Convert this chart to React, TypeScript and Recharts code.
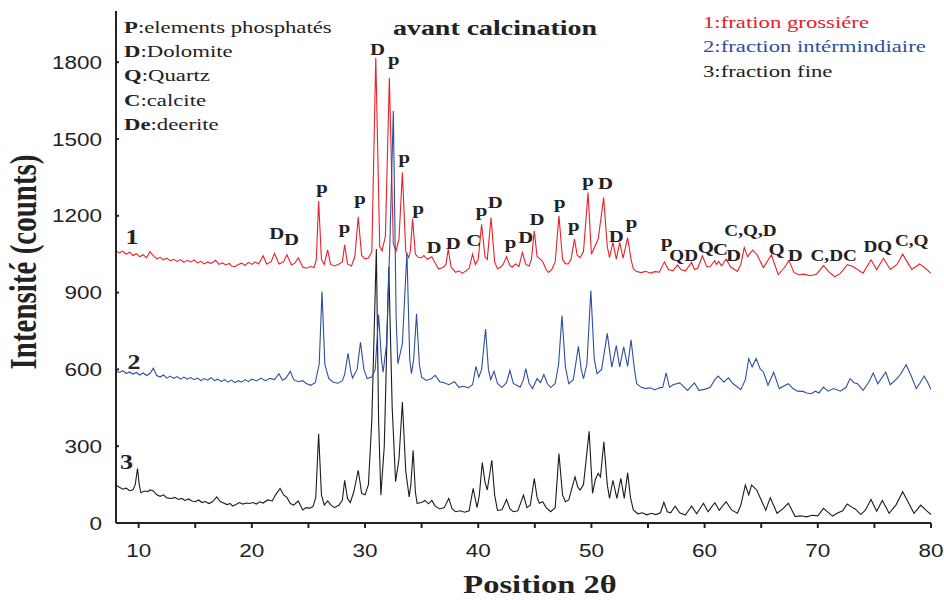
import { ComposedChart, Line, XAxis, YAxis, ReferenceDot } from "recharts";

// 2θ (deg) / intensity (counts) pairs, traces already offset
const coarseTrace: [number, number][] = [
  [8.0, 1063], [8.3, 1055], [8.6, 1062], [8.9, 1050], [9.2, 1058], [9.5, 1045], [9.8, 1052], [10.1, 1040],
  [10.4, 1048], [10.7, 1036], [11.0, 1060], [11.3, 1044], [11.6, 1032], [11.9, 1038], [12.2, 1028], [12.5, 1035],
  [12.8, 1024], [13.1, 1030], [13.4, 1022], [13.7, 1029], [14.0, 1018], [14.3, 1026], [14.6, 1020], [14.9, 1028],
  [15.2, 1016], [15.5, 1022], [15.8, 1012], [16.1, 1020], [16.4, 1014], [16.8, 1026], [17.1, 1010], [17.4, 1016],
  [17.7, 1008], [18.0, 1014], [18.2, 1004], [18.5, 1001], [18.8, 1010], [19.1, 1015], [19.4, 1006], [19.7, 1018],
  [20.0, 1010], [20.3, 1020], [20.6, 1012], [21.0, 1044], [21.3, 1012], [21.7, 1020], [22.0, 1053], [22.4, 1012],
  [22.8, 1020], [23.1, 1048], [23.5, 1008], [23.8, 1015], [24.1, 1036], [24.5, 1000], [24.8, 995], [25.2, 1002],
  [25.5, 998], [25.7, 1030], [25.9, 1258], [26.15, 1030], [26.4, 1010], [26.7, 1067], [26.95, 1010], [27.3, 1004],
  [27.7, 1012], [28.0, 1020], [28.2, 1087], [28.45, 1012], [28.8, 1004], [29.1, 1040], [29.4, 1196], [29.7, 1045],
  [30.0, 1032], [30.3, 1035], [30.6, 1060], [30.95, 1817], [31.3, 1080], [31.5, 1063], [31.8, 1120], [32.15, 1739],
  [32.5, 1090], [32.75, 1063], [33.0, 1110], [33.3, 1369], [33.6, 1060], [33.85, 1037], [34.0, 1060], [34.2, 1188],
  [34.45, 1050], [34.7, 1038], [35.0, 1036], [35.2, 1045], [35.5, 1030], [35.9, 1040], [36.2, 1015], [36.5, 993],
  [36.9, 998], [37.15, 1010], [37.35, 1070], [37.6, 1000], [38.0, 979], [38.3, 985], [38.6, 975], [38.9, 985],
  [39.2, 995], [39.5, 1050], [39.75, 1010], [40.0, 1030], [40.3, 1167], [40.6, 1040], [40.8, 1030], [41.13, 1193],
  [41.45, 1020], [41.7, 993], [42.0, 1000], [42.2, 1010], [42.5, 1040], [42.8, 1005], [43.0, 1000], [43.3, 1012],
  [43.6, 1002], [43.9, 1057], [44.2, 1010], [44.5, 1004], [44.7, 1030], [44.95, 1141], [45.2, 1040], [45.5, 1031],
  [45.7, 1020], [46.0, 990], [46.2, 979], [46.5, 990], [46.8, 1020], [47.13, 1200], [47.45, 1030], [47.7, 1013],
  [47.95, 1012], [48.2, 1030], [48.5, 1109], [48.75, 1045], [49.0, 1037], [49.3, 1060], [49.7, 1291], [50.0, 1050],
  [50.3, 1080], [50.6, 1109], [51.08, 1271], [51.4, 1080], [51.6, 1037], [51.9, 1096], [52.2, 1031], [52.5, 1096],
  [52.8, 1035], [53.2, 1115], [53.5, 1030], [53.7, 993], [54.0, 982], [54.4, 978], [54.8, 983], [55.2, 976],
  [55.6, 982], [56.0, 980], [56.45, 1020], [56.8, 990], [57.2, 985], [57.6, 1008], [57.9, 990], [58.3, 984],
  [58.85, 1018], [59.1, 990], [59.4, 996], [59.8, 1044], [60.2, 1000], [60.5, 1002], [60.9, 1025], [61.05, 1010],
  [61.25, 1022], [61.5, 1005], [61.9, 1031], [62.3, 1000], [62.9, 983], [63.2, 1010], [63.5, 1076], [63.8, 1040],
  [64.0, 1052], [64.25, 1066], [64.6, 1050], [65.2, 998], [65.9, 1048], [66.5, 970], [67.0, 995], [67.45, 1025],
  [67.9, 979], [68.3, 970], [68.8, 972], [69.3, 966], [69.9, 972], [70.5, 1005], [71.0, 980], [71.5, 962],
  [72.0, 975], [72.6, 1009], [73.1, 1002], [73.5, 990], [74.0, 976], [74.7, 1028], [75.2, 990], [75.8, 1034],
  [76.4, 990], [77.0, 1010], [77.5, 1050], [77.9, 1020], [78.3, 990], [79.0, 1012], [79.5, 995], [80.0, 975],
];

const middleTrace: [number, number][] = [
  [8.0, 593], [8.3, 588], [8.6, 595], [8.9, 584], [9.2, 590], [9.5, 582], [9.8, 588], [10.1, 578],
  [10.4, 586], [10.7, 576], [11.0, 584], [11.3, 605], [11.6, 576], [11.9, 570], [12.2, 578], [12.5, 566],
  [12.8, 574], [13.1, 565], [13.4, 572], [13.7, 562], [14.0, 570], [14.3, 562], [14.6, 568], [14.9, 560],
  [15.2, 566], [15.5, 556], [15.8, 564], [16.1, 558], [16.4, 568], [16.7, 556], [17.0, 562], [17.3, 552],
  [17.6, 560], [17.9, 550], [18.2, 558], [18.5, 548], [18.8, 556], [19.1, 550], [19.4, 560], [19.7, 552],
  [20.0, 562], [20.4, 555], [20.8, 566], [21.2, 556], [21.6, 565], [22.0, 560], [22.4, 583], [22.7, 558],
  [23.0, 565], [23.4, 592], [23.7, 560], [24.1, 552], [24.5, 556], [24.8, 545], [25.2, 538], [25.6, 548],
  [25.95, 620], [26.2, 904], [26.45, 620], [26.8, 564], [27.2, 550], [27.6, 546], [28.0, 556], [28.2, 580],
  [28.5, 663], [28.75, 590], [28.9, 566], [29.3, 600], [29.6, 706], [29.9, 600], [30.2, 564], [30.6, 570],
  [30.9, 600], [31.2, 813], [31.45, 640], [31.6, 589], [31.9, 700], [32.2, 1100], [32.5, 1609], [32.75, 800],
  [32.9, 622], [33.3, 700], [33.7, 1057], [33.95, 640], [34.1, 583], [34.3, 640], [34.55, 817], [34.8, 620],
  [35.0, 570], [35.4, 557], [35.8, 562], [36.2, 577], [36.6, 552], [37.0, 548], [37.4, 540], [37.9, 552],
  [38.3, 530], [38.7, 534], [39.1, 528], [39.5, 540], [39.8, 612], [40.05, 570], [40.3, 600], [40.65, 758],
  [40.9, 600], [41.1, 560], [41.4, 593], [41.7, 545], [42.1, 529], [42.5, 548], [42.8, 596], [43.1, 545],
  [43.7, 530], [44.0, 560], [44.2, 603], [44.5, 545], [44.8, 525], [45.2, 564], [45.5, 548], [45.8, 580],
  [46.1, 545], [46.4, 529], [46.8, 545], [47.1, 620], [47.4, 810], [47.7, 610], [48.0, 544], [48.4, 560],
  [48.85, 690], [49.1, 600], [49.3, 564], [49.6, 620], [49.95, 908], [50.25, 640], [50.5, 583], [50.9, 600],
  [51.4, 741], [51.8, 609], [52.2, 693], [52.5, 609], [52.85, 688], [53.2, 612], [53.5, 716], [53.8, 600],
  [54.0, 544], [54.4, 530], [54.8, 525], [55.2, 528], [55.6, 520], [56.0, 528], [56.3, 530], [56.6, 586],
  [56.9, 530], [57.2, 540], [57.8, 547], [58.5, 518], [59.1, 547], [59.5, 518], [60.0, 522], [60.5, 530],
  [60.9, 560], [61.2, 574], [61.5, 560], [61.7, 550], [62.1, 567], [62.5, 545], [63.2, 521], [63.6, 560],
  [63.9, 642], [64.2, 610], [64.55, 642], [64.9, 603], [65.2, 590], [65.6, 538], [66.1, 589], [66.6, 525],
  [67.0, 535], [67.4, 544], [67.8, 525], [68.2, 515], [68.7, 514], [69.0, 508], [69.4, 505], [69.8, 515],
  [70.1, 508], [70.5, 531], [70.9, 515], [71.4, 525], [72.0, 515], [72.5, 530], [72.85, 564], [73.2, 548],
  [73.5, 544], [74.0, 518], [74.5, 550], [74.9, 586], [75.3, 544], [75.7, 570], [76.0, 589], [76.4, 540],
  [76.9, 560], [77.3, 580], [77.8, 618], [78.2, 580], [78.7, 525], [79.0, 545], [79.4, 574], [79.7, 550],
  [80.0, 521],
];

const fineTrace: [number, number][] = [
  [8.0, 148], [8.3, 140], [8.6, 132], [8.9, 136], [9.2, 126], [9.5, 130], [9.7, 150], [9.9, 213],
  [10.05, 150], [10.2, 118], [10.5, 125], [10.8, 122], [11.0, 129], [11.3, 125], [11.6, 110], [11.9, 104],
  [12.2, 110], [12.5, 98], [12.9, 96], [13.2, 100], [13.5, 92], [13.8, 96], [14.1, 88], [14.4, 94],
  [14.7, 86], [15.0, 83], [15.3, 90], [15.6, 80], [15.9, 84], [16.2, 76], [16.5, 82], [16.9, 102],
  [17.2, 84], [17.5, 78], [17.8, 72], [18.1, 76], [18.3, 66], [18.6, 72], [18.9, 80], [19.2, 74],
  [19.5, 78], [19.8, 76], [20.1, 80], [20.4, 74], [20.7, 83], [21.0, 78], [21.4, 90], [21.8, 86],
  [22.1, 110], [22.5, 135], [22.8, 110], [23.1, 100], [23.4, 76], [23.7, 70], [24.1, 86], [24.5, 51],
  [24.8, 60], [25.1, 58], [25.4, 64], [25.65, 100], [25.9, 349], [26.15, 110], [26.4, 70], [26.7, 86],
  [27.0, 70], [27.3, 60], [27.7, 70], [28.0, 90], [28.2, 167], [28.45, 96], [28.7, 80], [29.0, 120],
  [29.4, 206], [29.7, 116], [30.0, 110], [30.3, 150], [30.6, 400], [31.0, 1070], [31.2, 400], [31.4, 109],
  [31.7, 300], [32.1, 1000], [32.4, 450], [32.7, 161], [33.0, 250], [33.3, 473], [33.6, 200], [33.9, 102],
  [34.05, 150], [34.25, 284], [34.45, 120], [34.6, 77], [35.0, 80], [35.3, 88], [35.6, 75], [35.9, 88],
  [36.2, 66], [36.6, 55], [37.0, 60], [37.4, 96], [37.7, 55], [38.0, 44], [38.4, 48], [38.8, 42],
  [39.2, 48], [39.55, 135], [39.9, 60], [40.1, 110], [40.36, 236], [40.6, 160], [40.8, 129], [41.2, 245],
  [41.45, 110], [41.7, 49], [42.1, 52], [42.5, 92], [42.8, 55], [43.1, 44], [43.5, 48], [44.0, 109],
  [44.3, 60], [44.6, 70], [44.95, 174], [45.2, 100], [45.4, 77], [45.7, 83], [46.0, 60], [46.4, 44],
  [46.8, 60], [47.13, 271], [47.45, 110], [47.7, 83], [48.0, 90], [48.55, 180], [48.8, 140], [49.0, 129],
  [49.3, 150], [49.8, 358], [50.1, 116], [50.35, 170], [50.6, 194], [50.8, 180], [51.1, 317], [51.4, 150],
  [51.6, 96], [51.9, 167], [52.25, 96], [52.6, 174], [52.9, 96], [53.2, 196], [53.45, 100], [53.7, 51],
  [54.1, 36], [54.5, 40], [54.9, 32], [55.3, 38], [55.7, 33], [56.1, 40], [56.4, 81], [56.7, 44],
  [57.0, 40], [57.4, 66], [57.8, 40], [58.3, 31], [58.85, 66], [59.3, 36], [59.9, 77], [60.3, 44],
  [60.9, 79], [61.3, 50], [61.9, 83], [62.4, 50], [62.9, 38], [63.2, 70], [63.6, 148], [63.9, 110],
  [64.15, 148], [64.6, 129], [65.0, 90], [65.4, 50], [65.8, 99], [66.4, 38], [66.9, 55], [67.4, 77],
  [68.0, 25], [68.5, 28], [69.0, 24], [69.5, 30], [70.0, 28], [70.5, 57], [71.3, 27], [71.8, 40],
  [72.2, 48], [72.6, 74], [73.0, 62], [73.3, 55], [73.8, 33], [74.2, 50], [74.7, 92], [75.2, 46],
  [75.7, 88], [76.3, 38], [76.9, 70], [77.5, 122], [78.0, 80], [78.5, 38], [79.1, 70], [79.6, 48],
  [80.0, 33],
];

const xTicks = [10, 15, 20, 25, 30, 35, 40, 45, 50, 55, 60, 65, 70, 75, 80];
const yTicks = [0, 300, 600, 900, 1200, 1500, 1800];

// phase labels above the coarse fraction peaks (label centre in data units)
const phaseMarks = [
  { x: 22.2, y: 1129, text: "D" }, { x: 23.5, y: 1109, text: "D" }, { x: 26.2, y: 1297, text: "p" },
  { x: 28.2, y: 1141, text: "p" }, { x: 29.55, y: 1252, text: "p" }, { x: 31.1, y: 1849, text: "D" },
  { x: 32.55, y: 1797, text: "p" }, { x: 33.47, y: 1414, text: "p" }, { x: 34.7, y: 1213, text: "p" },
  { x: 36.1, y: 1076, text: "D" }, { x: 37.8, y: 1092, text: "D" }, { x: 39.6, y: 1105, text: "C" },
  { x: 40.3, y: 1207, text: "p" }, { x: 41.5, y: 1252, text: "D" }, { x: 42.86, y: 1083, text: "p" },
  { x: 44.2, y: 1115, text: "D" }, { x: 45.2, y: 1187, text: "D" }, { x: 47.2, y: 1239, text: "p" },
  { x: 48.45, y: 1148, text: "p" }, { x: 49.7, y: 1323, text: "p" }, { x: 51.25, y: 1326, text: "D" },
  { x: 52.2, y: 1118, text: "D" }, { x: 53.55, y: 1161, text: "p" }, { x: 56.65, y: 1085, text: "p" },
  { x: 58.15, y: 1044, text: "QD" }, { x: 60.1, y: 1076, text: "Q" }, { x: 61.4, y: 1070, text: "C" },
  { x: 62.55, y: 1044, text: "D" }, { x: 64.05, y: 1143, text: "C,Q,D" }, { x: 66.35, y: 1070, text: "Q" },
  { x: 68.0, y: 1044, text: "D" }, { x: 71.4, y: 1044, text: "C,DC" }, { x: 75.3, y: 1079, text: "DQ" },
  { x: 78.3, y: 1105, text: "C,Q" },
];

const traceNumbers = [
  { x: 9.41, y: 1118, text: "1" },
  { x: 9.59, y: 629, text: "2" },
  { x: 8.93, y: 240, text: "3" },
];

const phaseKey = [
  ["P", ":elements phosphatés"],
  ["D", ":Dolomite"],
  ["Q", ":Quartz"],
  ["C", ":calcite"],
  ["De", ":deerite"],
];

const RED = "#e8202a";
const BLUE = "#2d4f9f";
const BLACK = "#1c1c1c";

const fractionKey = [
  { text: "1:fration grossiére", color: RED },
  { text: "2:fraction intérmindiaire", color: BLUE },
  { text: "3:fraction fine", color: BLACK },
];

const SERIF = "'Liberation Serif', 'Times New Roman', serif";
const SANS = "'Liberation Sans', Arial, sans-serif";
const SX = 1.3; // the original figure is stretched sideways

const toRows = (pts: [number, number][]) => pts.map(([x, y]) => ({ x, y }));

function XTick(props: any) {
  const v = props.payload.value;
  if (v % 10 !== 0) return <g />;
  return (
    <text
      transform={`translate(${props.payload.coordinate},557) scale(1.25,1)`}
      textAnchor="middle"
      fontFamily={SANS}
      fontSize={18}
      fill="#222"
    >
      {v}
    </text>
  );
}

function YTick(props: any) {
  return (
    <text
      transform={`translate(102,${props.payload.coordinate + 6.5}) scale(1.25,1)`}
      textAnchor="end"
      fontFamily={SANS}
      fontSize={18}
      fill="#222"
    >
      {props.payload.value}
    </text>
  );
}

function markShape(text: string, size: number, dy: number, sx = SX) {
  return (p: any) => (
    <text
      transform={`translate(${p.cx},${p.cy + dy}) scale(${sx},1)`}
      textAnchor="middle"
      fontFamily={SERIF}
      fontWeight="bold"
      fontSize={size}
      fill="#222"
    >
      {text}
    </text>
  );
}

export default function App() {
  return (
    <div style={{ position: "absolute", left: 0, top: 0, width: 944, height: 600, background: "#fff" }}>
      <ComposedChart width={944} height={600} margin={{ top: 11, right: 13, bottom: 0, left: 0 }}>
        <XAxis
          dataKey="x"
          type="number"
          domain={[8, 80]}
          ticks={xTicks}
          allowDataOverflow
          height={77}
          stroke="#222"
          strokeWidth={2}
          tickSize={5}
          tick={XTick}
        />
        <XAxis
          xAxisId="top"
          orientation="top"
          dataKey="x"
          type="number"
          domain={[8, 80]}
          ticks={xTicks}
          height={0}
          stroke="#333"
          strokeWidth={1.5}
          tickSize={-3}
          tick={() => <g />}
        />
        <YAxis
          type="number"
          domain={[0, 2000]}
          ticks={yTicks}
          width={116}
          stroke="#222"
          strokeWidth={2}
          tickSize={-3}
          tick={YTick}
        />
        <YAxis
          yAxisId="right"
          orientation="right"
          type="number"
          domain={[0, 2000]}
          width={0}
          stroke="#333"
          strokeWidth={1.5}
          tickLine={false}
          tick={false}
        />
        <Line data={toRows(fineTrace)} dataKey="y" type="linear" stroke={BLACK} strokeWidth={1.1} dot={false} isAnimationActive={false} />
        <Line data={toRows(coarseTrace)} dataKey="y" type="linear" stroke={RED} strokeWidth={1.1} dot={false} isAnimationActive={false} />
        <Line data={toRows(middleTrace)} dataKey="y" type="linear" stroke={BLUE} strokeWidth={1.1} dot={false} isAnimationActive={false} />
        {phaseMarks.map((m, i) => (
          <ReferenceDot
            key={"m" + i}
            x={m.x}
            y={m.y}
            r={0}
            shape={markShape(m.text, 16, m.text === "p" ? 2 : 5.5, m.text.length > 1 ? 1.2 : SX)}
          />
        ))}
        {traceNumbers.map((m) => (
          <ReferenceDot key={"n" + m.text} x={m.x} y={m.y} r={0} shape={markShape(m.text, 20, 7)} />
        ))}
      </ComposedChart>
      <svg width={944} height={600} style={{ position: "absolute", left: 0, top: 0, pointerEvents: "none" }}>
        {phaseKey.map(([sym, name], i) => (
          <text
            key={sym}
            transform={`translate(124,${32.7 + i * 24.3}) scale(${SX},1)`}
            fontFamily={SERIF}
            fontSize={17.5}
            fill="#222"
          >
            <tspan fontWeight="bold">{sym}</tspan>
            {name}
          </text>
        ))}
        <text
          transform={`translate(495,35) scale(${SX},1)`}
          textAnchor="middle"
          fontFamily={SERIF}
          fontWeight="bold"
          fontSize={21.5}
          fill="#222"
        >
          avant calcination
        </text>
        {fractionKey.map((f, i) => (
          <text
            key={f.text}
            transform={`translate(703,${28 + i * 24.4}) scale(${SX},1)`}
            fontFamily={SERIF}
            fontSize={17.5}
            fill={f.color}
          >
            {f.text}
          </text>
        ))}
        <text
          transform={`translate(540,593) scale(${SX},1)`}
          textAnchor="middle"
          fontFamily={SERIF}
          fontWeight="bold"
          fontSize={25}
          fill="#222"
        >
          Position 2θ
        </text>
        <text
          transform={`translate(36,262) scale(${SX},1) rotate(-90)`}
          textAnchor="middle"
          fontFamily={SERIF}
          fontWeight="bold"
          fontSize={29}
          fill="#222"
        >
          Intensité (counts)
        </text>
      </svg>
    </div>
  );
}
